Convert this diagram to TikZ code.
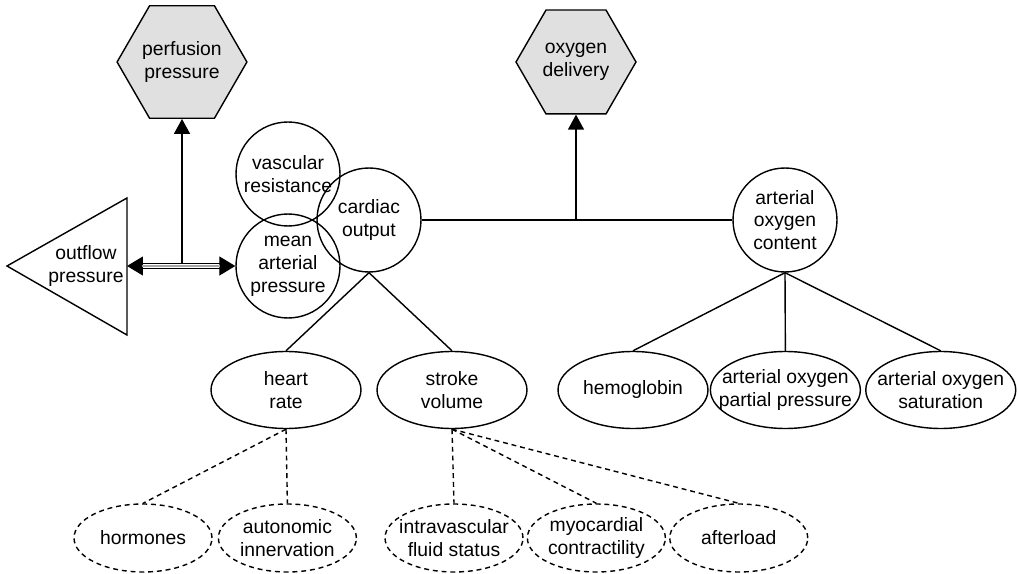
\documentclass[tikz,border=0pt]{standalone}
\usepackage{fontspec}
\setmainfont{Liberation Sans}
\usetikzlibrary{arrows.meta, positioning, shapes.geometric}

\begin{document}
\begin{tikzpicture}[
    x=0.02cm, y=-0.02cm,
    every node/.style={font=\fontsize{11}{13}\selectfont, align=center},
    goal/.style={regular polygon, regular polygon sides=6, draw, line width=0.8pt, fill=black!12, minimum size=2.4cm, inner sep=0pt},
    factor/.style={circle, draw, line width=0.8pt, minimum size=2.08cm, inner sep=-3pt},
    measure/.style={ellipse, draw, line width=0.8pt, minimum width=3.0cm, minimum height=1.54cm, inner xsep=-0.3cm, inner ysep=0pt},
    influence/.style={ellipse, draw, line width=0.8pt, dash pattern=on 2.8pt off 2.2pt, minimum width=2.76cm, minimum height=1.36cm, inner xsep=-0.2cm, inner ysep=0pt},
    link/.style={line width=0.8pt},
    weak/.style={line width=0.8pt, dash pattern=on 2.8pt off 2.2pt},
    arrow/.style={line width=0.8pt, -{Triangle[length=0.3cm, width=0.32cm]}},
    twoway/.style={line width=0.7pt, double, double distance=2.4pt, {Triangle[length=0.32cm, width=0.38cm]}-{Triangle[length=0.32cm, width=0.38cm]}}
]
    \useasboundingbox (0,0) rectangle (1018,574);

    \node[goal] (pp) at (182,62) {perfusion\\pressure};
    \node[goal] (od) at (576,62) {oxygen\\delivery};

    \node[factor] (vr) at (288,174) {vascular\\resistance};
    \node[factor] (map) at (288,266) {mean\\arterial\\pressure};
    \node[factor] (co) at (369,220) {cardiac\\output};
    \node[factor] (aoc) at (785,220) {arterial\\oxygen\\content};

    \draw[link] (7,266) -- (127,198) -- (127,335) -- cycle;
    \node (outflow) at (86,266) {outflow\\pressure};
    \coordinate (outflow-base) at (127,266);

    \node[measure] (hr) at (286,390) {heart\\rate};
    \node[measure] (sv) at (452,390) {stroke\\volume};
    \node[measure] (hb) at (633,390) {hemoglobin};
    \node[measure, right=0.02cm of hb] (pao) {arterial oxygen\\partial pressure};
    \node[measure, right=0.08cm of pao] (sao) {arterial oxygen\\saturation};

    \node[influence] (horm) at (143,538) {hormones};
    \node[influence, right=0.1cm of horm] (ani) {autonomic\\innervation};
    \node[influence] (ivf) at (454,538) {intravascular\\fluid status};
    \node[influence, right=0.06cm of ivf] (mc) {myocardial\\contractility};
    \node[influence, right=0.06cm of mc] (al) {afterload};

    \coordinate (pp-foot) at (pp.south |- map.west);
    \draw[arrow] (pp-foot) -- (pp.south);
    \draw[twoway] (outflow-base) -- (map.west);
    \draw[black!35, line width=0.6pt, shorten <=0.3cm, shorten >=0.3cm] (outflow-base) -- (map.west);

    \draw[link] (co.east) -- (aoc.west);
    \coordinate (od-foot) at (od.south |- co.east);
    \draw[arrow] (od-foot) -- (od.south);

    \draw[link] (co.south) -- (hr.north);
    \draw[link] (co.south) -- (sv.north);
    \draw[link] (aoc.south) -- (hb.north);
    \draw[link] (aoc.south) -- (pao.north);
    \draw[link] (aoc.south) -- (sao.north);

    \draw[weak] (hr.south) -- (horm.north);
    \draw[weak] (hr.south) -- (ani.north);
    \draw[weak] (sv.south) -- (ivf.north);
    \draw[weak] (sv.south) -- (mc.north);
    \draw[weak] (sv.south) -- (al.north);

\end{tikzpicture}
\end{document}
